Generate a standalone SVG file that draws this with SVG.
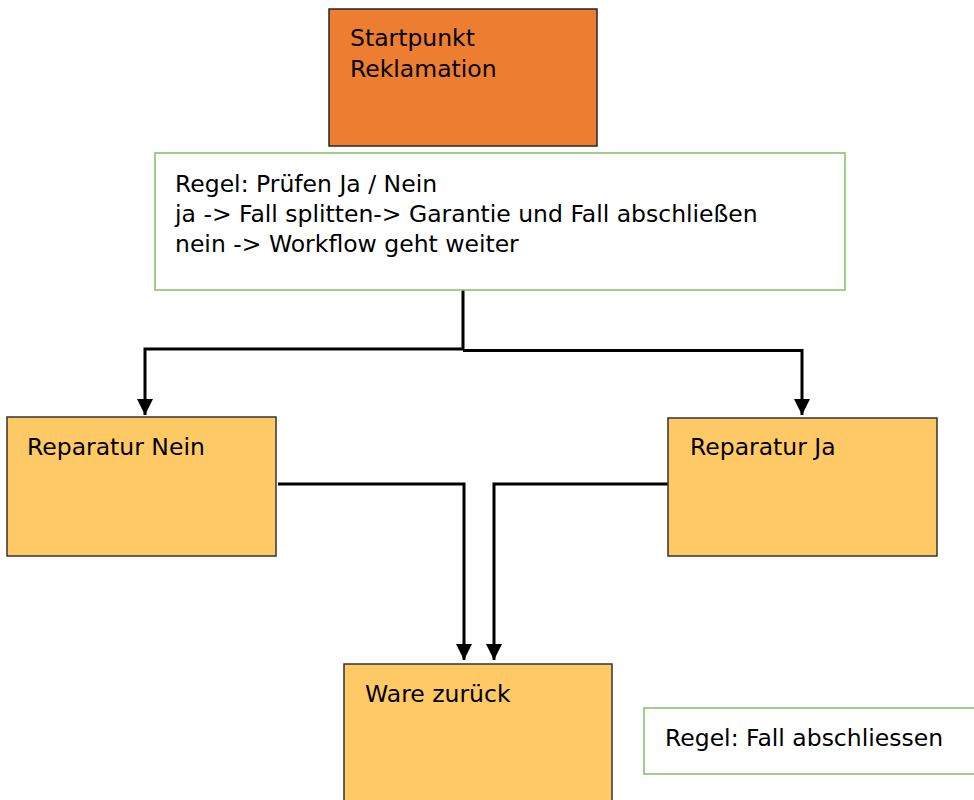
<svg xmlns="http://www.w3.org/2000/svg" width="974" height="800" viewBox="0 0 974 800">
<style>
.orange{fill:#ED7D31;stroke:#262626;stroke-width:1.5}
.yellow{fill:#FFCA66;stroke:#333333;stroke-width:1.5}
.rule{fill:#FFFFFF;stroke:#82C062;stroke-width:1.5}
.t{font-family:"DejaVu Sans",Verdana,sans-serif;font-size:23.5px;fill:#000000}
.c{fill:none;stroke:#000000;stroke-width:3}
</style>
<defs>
<marker id="arr" markerUnits="userSpaceOnUse" markerWidth="18" markerHeight="18" refX="16" refY="8" orient="auto">
<path d="M0,0 L16,8 L0,16 Z" fill="#000000"/>
</marker>
</defs>
<rect width="974" height="800" fill="#FFFFFF"/>
<g id="connectors">
<path class="c" d="M463,290 V349 H145 V415" marker-end="url(#arr)"/>
<path class="c" d="M463,350.5 H802 V415" marker-end="url(#arr)"/>
<path class="c" d="M278,484 H464 V660" marker-end="url(#arr)"/>
<path class="c" d="M668,484 H494 V660" marker-end="url(#arr)"/>
</g>
<g id="start">
<rect class="orange" x="329" y="9" width="268" height="137"/>
<text class="t" x="350" y="46">Startpunkt</text>
<text class="t" x="350" y="77">Reklamation</text>
</g>
<g id="regel1">
<rect class="rule" x="155" y="153" width="690" height="137"/>
<text class="t" x="175" y="192">Regel: Prüfen Ja / Nein</text>
<text class="t" x="175" y="222">ja -&gt; Fall splitten-&gt; Garantie und Fall abschließen</text>
<text class="t" x="175" y="252">nein -&gt; Workflow geht weiter</text>
</g>
<g id="reparatur-nein">
<rect class="yellow" x="7" y="417" width="269" height="139"/>
<text class="t" x="27" y="455">Reparatur Nein</text>
</g>
<g id="reparatur-ja">
<rect class="yellow" x="668" y="418" width="269" height="138"/>
<text class="t" x="690" y="455">Reparatur Ja</text>
</g>
<g id="ware-zurueck">
<rect class="yellow" x="344" y="664" width="268" height="150"/>
<text class="t" x="365" y="702">Ware zurück</text>
</g>
<g id="regel2">
<rect class="rule" x="644" y="708" width="340" height="66"/>
<text class="t" x="665" y="746">Regel: Fall abschliessen</text>
</g>
</svg>
